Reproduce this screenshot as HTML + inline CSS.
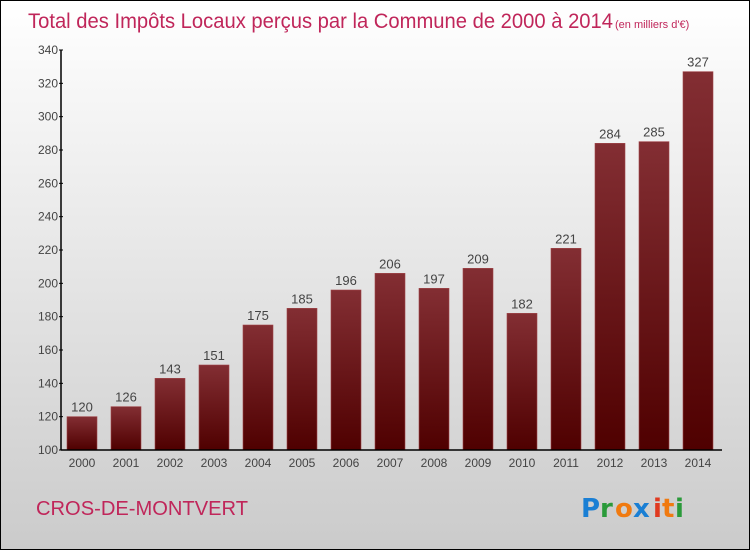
<!DOCTYPE html>
<html><head><meta charset="utf-8"><style>
body{margin:0}
#c{width:748px;height:548px;border:1px solid #000;background:linear-gradient(#fff,#cbcbcb);position:relative;font-family:"Liberation Sans",sans-serif}
</style></head><body>
<div id="c">
<svg id="s" width="748" height="548">
<text x="27" y="27" font-size="21" fill="#c0265a" font-family="Liberation Sans,sans-serif" textLength="585" lengthAdjust="spacingAndGlyphs">Total des Impôts Locaux perçus par la Commune de 2000 à 2014</text>
<text x="614" y="27" font-size="11" fill="#c0265a">(en milliers d'€)</text>
<text x="35" y="514" font-size="20" fill="#c0265a" textLength="212" lengthAdjust="spacingAndGlyphs">CROS-DE-MONTVERT</text>
<g font-size="26" font-weight="bold" font-family="DejaVu Sans,sans-serif">
<text x="580" y="516" fill="#1a7fd4">P</text><text x="599" y="516" fill="#2a9a3a">r</text><text x="614" y="516" fill="#f07a10">o</text><text x="632" y="516" fill="#1a7fd4">x</text><text x="652" y="516" fill="#e03a20">i</text><text x="661" y="516" fill="#f07a10">t</text><text x="674" y="516" fill="#2a9a3a">i</text>
</g>
<defs><linearGradient id="g" x1="0" y1="0" x2="0" y2="1"><stop offset="0" stop-color="#832e33"/><stop offset="1" stop-color="#4f0000"/></linearGradient></defs>
<g id="bars"></g>
<g id="axes"></g>
</svg>
</div>
<script>
const years=["2000","2001","2002","2003","2004","2005","2006","2007","2008","2009","2010","2011","2012","2013","2014"];
const values=[120,126,143,151,175,185,196,206,197,209,182,221,284,285,327];
const yTicks=[100,120,140,160,180,200,220,240,260,280,300,320,340];
const NS="http://www.w3.org/2000/svg";
const y=v=>449-(v-100)*400/240;
const x=i=>81+i*44;
function mk(t,a,p,txt){const e=document.createElementNS(NS,t);for(const k in a)e.setAttribute(k,a[k]);if(txt!=null)e.textContent=txt;p.appendChild(e);return e;}
const B=document.getElementById('bars'),A=document.getElementById('axes');
values.forEach((v,i)=>{
 const r=mk('rect',{x:x(i)-15,y:y(v),width:30,height:y(100)-y(v),fill:'url(#g)',stroke:'#a04548','stroke-width':0.6},B);
 
 
 const t=mk('text',{x:x(i),y:y(v)-5,'text-anchor':'middle','font-size':13,fill:'#444'},B,String(v));
 
 
 const l=mk('text',{x:x(i),y:466,'text-anchor':'middle','font-size':12,fill:'#444'},A,years[i]);
 
 
});
const ya=mk('line',{x1:60,y1:49,x2:60,y2:449,stroke:'#000','stroke-width':1.5},A);


const xa=mk('line',{x1:60,y1:449,x2:721,y2:449,stroke:'#000','stroke-width':1.5},A);


yTicks.forEach(v=>{
 mk('line',{x1:58,y1:y(v),x2:62,y2:y(v),stroke:'#000'},A);
 const t=mk('text',{x:57,y:y(v)+4,'text-anchor':'end','font-size':12,fill:'#444'},A,String(v));
 
 
});
</script>
</body></html>
